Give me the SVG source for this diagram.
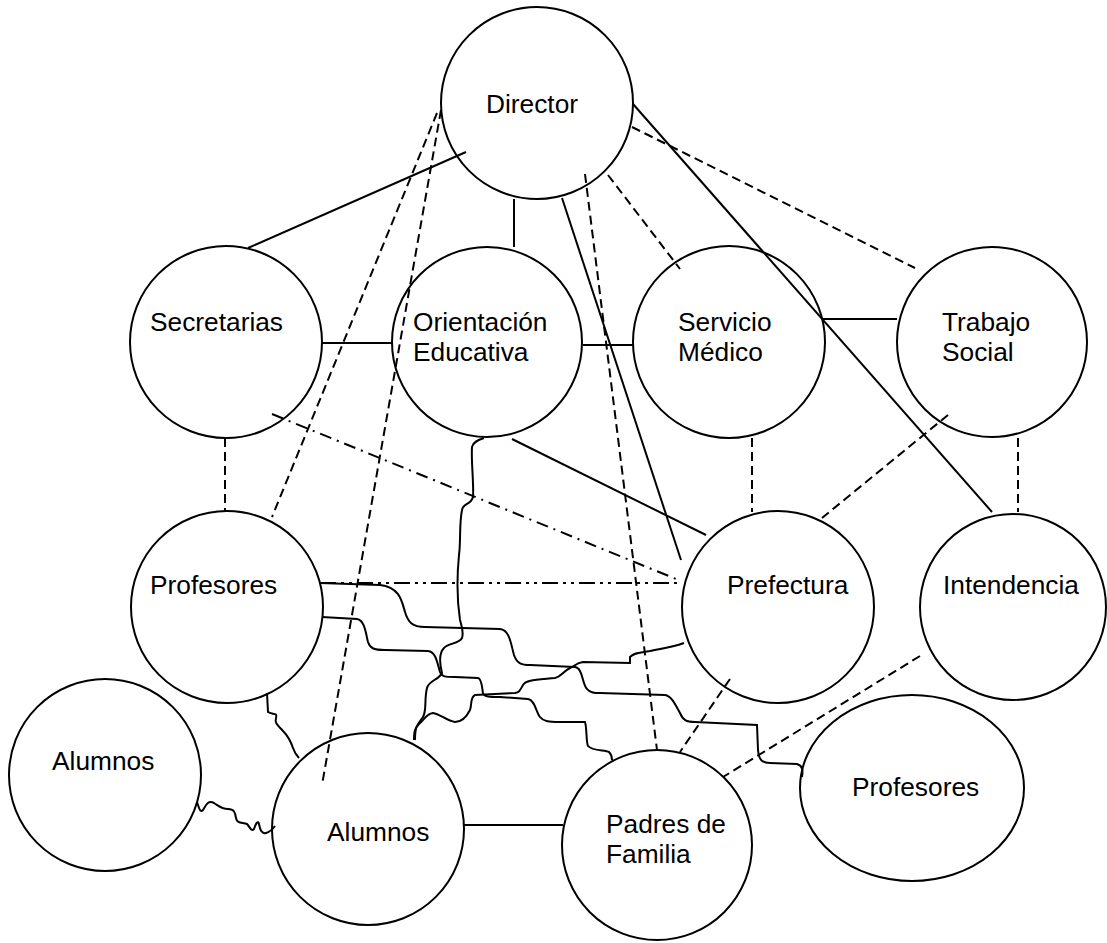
<svg xmlns="http://www.w3.org/2000/svg" width="1107" height="943" viewBox="0 0 1107 943">
<style>
.node{fill:#fff;stroke:#000;stroke-width:2}
.lbl{font-family:"Liberation Sans",Arial,sans-serif;font-size:26.3px;fill:#000}
.c{fill:none;stroke:#000;stroke-width:2}
.d{stroke-dasharray:9 5}
.dd{stroke-dasharray:12 6 2 6}
.ddd{stroke-dasharray:16 5 3 5 3 5}
</style>
<rect width="1107" height="943" fill="#fff"/>
<g id="director"><circle class="node" cx="537" cy="103" r="96"/><text class="lbl" x="486" y="113">Director</text></g>
<g id="secretarias"><circle class="node" cx="226" cy="342" r="96"/><text class="lbl" x="150" y="331">Secretarias</text></g>
<g id="orientacion"><circle class="node" cx="487" cy="342" r="95"/><text class="lbl" x="413" y="331">Orientación</text><text class="lbl" x="413" y="361">Educativa</text></g>
<g id="servicio"><circle class="node" cx="729" cy="342" r="96"/><text class="lbl" x="678" y="331">Servicio</text><text class="lbl" x="678" y="361">Médico</text></g>
<g id="trabajo"><circle class="node" cx="992" cy="342" r="95"/><text class="lbl" x="942" y="331">Trabajo</text><text class="lbl" x="942" y="361">Social</text></g>
<g id="profesores1"><circle class="node" cx="227" cy="607" r="96"/><text class="lbl" x="150" y="594">Profesores</text></g>
<g id="prefectura"><circle class="node" cx="778" cy="607" r="96"/><text class="lbl" x="727" y="594">Prefectura</text></g>
<g id="intendencia"><circle class="node" cx="1013" cy="607" r="93"/><text class="lbl" x="943" y="594">Intendencia</text></g>
<g id="alumnos1"><circle class="node" cx="105" cy="775" r="96"/><text class="lbl" x="52" y="770">Alumnos</text></g>
<g id="alumnos2"><circle class="node" cx="368" cy="829" r="96"/><text class="lbl" x="327" y="841">Alumnos</text></g>
<g id="padres"><circle class="node" cx="657" cy="845" r="95"/><text class="lbl" x="606" y="833">Padres de</text><text class="lbl" x="606" y="863">Familia</text></g>
<g id="profesores2"><ellipse class="node" cx="912" cy="788" rx="112" ry="93"/><text class="lbl" x="852" y="796">Profesores</text></g>
<g id="connectors">
<line class="c" x1="466" y1="152" x2="248" y2="248"/>
<line class="c" x1="514" y1="199" x2="514" y2="247"/>
<line class="c" x1="562" y1="198" x2="681" y2="560"/>
<line class="c" x1="633" y1="104" x2="992" y2="512"/>
<line class="c" x1="321" y1="343" x2="392" y2="343"/>
<line class="c" x1="583" y1="345" x2="633" y2="345"/>
<line class="c" x1="823" y1="319" x2="897" y2="319"/>
<line class="c" x1="512" y1="439" x2="706" y2="535"/>
<line class="c" x1="463" y1="825" x2="563" y2="825"/>
<line class="c d" x1="437" y1="113" x2="272" y2="517"/>
<line class="c d" x1="441" y1="110" x2="322" y2="785"/>
<line class="c d" x1="608" y1="175" x2="680" y2="269"/>
<line class="c d" x1="632" y1="127" x2="915" y2="268"/>
<line class="c d" x1="585" y1="174" x2="657" y2="750"/>
<line class="c d" x1="225" y1="438" x2="225" y2="511"/>
<line class="c d" x1="752" y1="438" x2="752" y2="512"/>
<line class="c d" x1="1018" y1="438" x2="1018" y2="512"/>
<line class="c d" x1="948" y1="415" x2="822" y2="518"/>
<line class="c d" x1="730" y1="679" x2="680" y2="752"/>
<line class="c d" x1="920" y1="656" x2="723" y2="777"/>
<line class="c dd" x1="272" y1="414" x2="681" y2="581"/>
<line class="c ddd" x1="320" y1="583" x2="682" y2="583"/>
<path class="c" d="M320,583 L380,585 C400,587 402,602 405,612 C408,622 412,627 425,627 L500,629 C510,630 511,645 514,655 C517,664 522,665 530,665 L575,667 C583,668 582,684 587,689 C590,693 595,693 600,693 L665,695 C672,696 676,706 680,713 C683,720 686,722 695,722 L757,725 L758,750 C759,760 762,763 770,763 L797,764 C803,766 803,770 802,777"/>
<path class="c" d="M322,617 L357,619 C365,620 366,635 368,642 C370,648 373,650 385,650 L428,651 C436,652 437,662 440,672 C442,677 445,677 455,677 L478,678 C482,679 482,688 483,693 C484,697 490,697 500,697 L528,699 C535,700 536,712 540,717 C543,721 548,722 560,722 L585,722 C587,728 586,742 588,746 C592,751 605,750 609,752 C612,755 612,758 612,760"/>
<path class="c" d="M484,438 C478,440 473,442 472,447 C471,460 474,485 473,497 C471,505 463,503 462,510 C459,525 461,540 459,555 C457,575 457,600 460,620 C462,628 464,632 462,638 C459,644 448,643 444,648 C438,654 440,665 442,673 C439,680 429,680 427,688 C424,700 427,710 423,717 C418,724 415,725 415,740"/>
<path class="c" d="M684,643 C670,648 658,649 650,651 C640,653 635,652 630,657 L630,663 L583,662 C576,663 575,666 570,668 C562,672 562,676 555,678 C535,680 526,680 523,685 C520,690 520,692 515,693 L475,695 C470,697 472,705 470,710 C466,718 460,722 455,722 C447,721 440,714 433,713 C426,714 424,720 419,724 C415,728 414,731 414,740"/>
<path class="c" d="M267,693 L268,712 C272,715 278,712 276,718 C274,724 280,727 283,731 C288,736 291,742 293,748 C295,754 297,756 299,758"/>
<path class="c" d="M197,802 C199,808 200,813 203,810 C206,805 208,800 214,803 C219,806 221,809 228,809 C234,809 235,812 236,818 C237,824 243,822 247,824 C250,827 251,832 254,829 C256,823 258,820 259,824 C260,830 262,834 266,833 C270,832 272,830 275,826"/>
</g>
</svg>
